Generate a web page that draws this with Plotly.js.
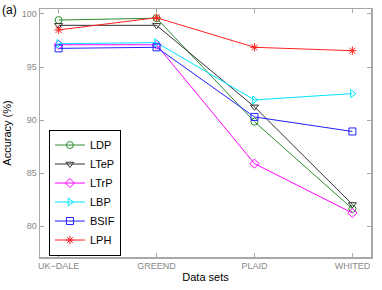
<!DOCTYPE html>
<html><head><meta charset="utf-8">
<script src="https://cdn.plot.ly/plotly-3.0.1.min.js"></script>
<style>body{margin:0;padding:0;background:#fff}#c{width:382px;height:290px}</style>
</head><body><div id="c"></div>
<script>
const categories = ["UK\u2212DALE", "GREEND", "PLAID", "WHITED"];
const LDP  = [99.43, 99.6, 89.85, 81.65];
const LTeP = [98.93, 98.93, 91.25, 82.05];
const LTrP = [97.1, 97.1, 85.9, 81.25];
const LBP  = [97.2, 97.3, 91.9, 92.5];
const BSIF = [96.76, 96.86, 90.3, 88.93];
const LPH  = [98.5, 99.65, 96.86, 96.54];
const yTicks = [80, 85, 90, 95, 100];

const xIdx = categories.map((_, i) => i);
const spec = [
  ["LDP", LDP, "#2e8b2e", "circle-open"],
  ["LTeP", LTeP, "#333333", "triangle-down-open"],
  ["LTrP", LTrP, "#ff00ff", "diamond-open"],
  ["LBP", LBP, "#00e5ff", "triangle-right-open"],
  ["BSIF", BSIF, "#2020ff", "square-open"],
  ["LPH", LPH, "#ff2020", "asterisk-open"]
];
const traces = spec.map(([name, y, color, sym]) => ({
  type: "scatter", mode: "lines+markers", name: name,
  x: xIdx, y: y,
  line: {color: color, width: 1},
  marker: {symbol: sym, size: 7, color: color, line: {color: color, width: 1}}
}));

const axisCommon = {
  showline: true, mirror: "ticks", linecolor: "#a8a8a8", linewidth: 1.5,
  ticks: "inside", ticklen: 4, tickcolor: "#a8a8a8", tickwidth: 1,
  showgrid: false, zeroline: false,
  tickfont: {family: "Liberation Sans, Arial, sans-serif", size: 9, color: "#888888"}
};

const layout = {
  width: 382, height: 290,
  margin: {l: 40, r: 11, t: 9, b: 33},
  paper_bgcolor: "#fff", plot_bgcolor: "#fff",
  showlegend: true,
  font: {family: "Liberation Sans, Arial, sans-serif", color: "#000"},
  xaxis: Object.assign({}, axisCommon, {
    range: [-0.19, 3.19],
    tickvals: xIdx, ticktext: categories,
    title: {text: "Data sets", font: {size: 11, color: "#000"}, standoff: 3}
  }),
  yaxis: Object.assign({}, axisCommon, {
    range: [77.1, 100.47],
    tickvals: yTicks, ticktext: yTicks.map(String),
    title: {text: "Accuracy (%)", font: {size: 11, color: "#000"}, standoff: 8}
  }),
  legend: {
    x: 0.027, y: 0.26, xanchor: "left", yanchor: "middle",
    bgcolor: "#fff", bordercolor: "#000", borderwidth: 1,
    font: {size: 11, color: "#000"},
    itemwidth: 30, tracegroupgap: 0
  },
  annotations: [{
    text: "(a)", xref: "paper", yref: "paper", x: 0, y: 1, xanchor: "left", yanchor: "top",
    xshift: -40, yshift: 8, showarrow: false, font: {size: 12, color: "#000"}
  }]
};

Plotly.newPlot("c", traces, layout, {displayModeBar: false, staticPlot: true});
</script>
</body></html>
